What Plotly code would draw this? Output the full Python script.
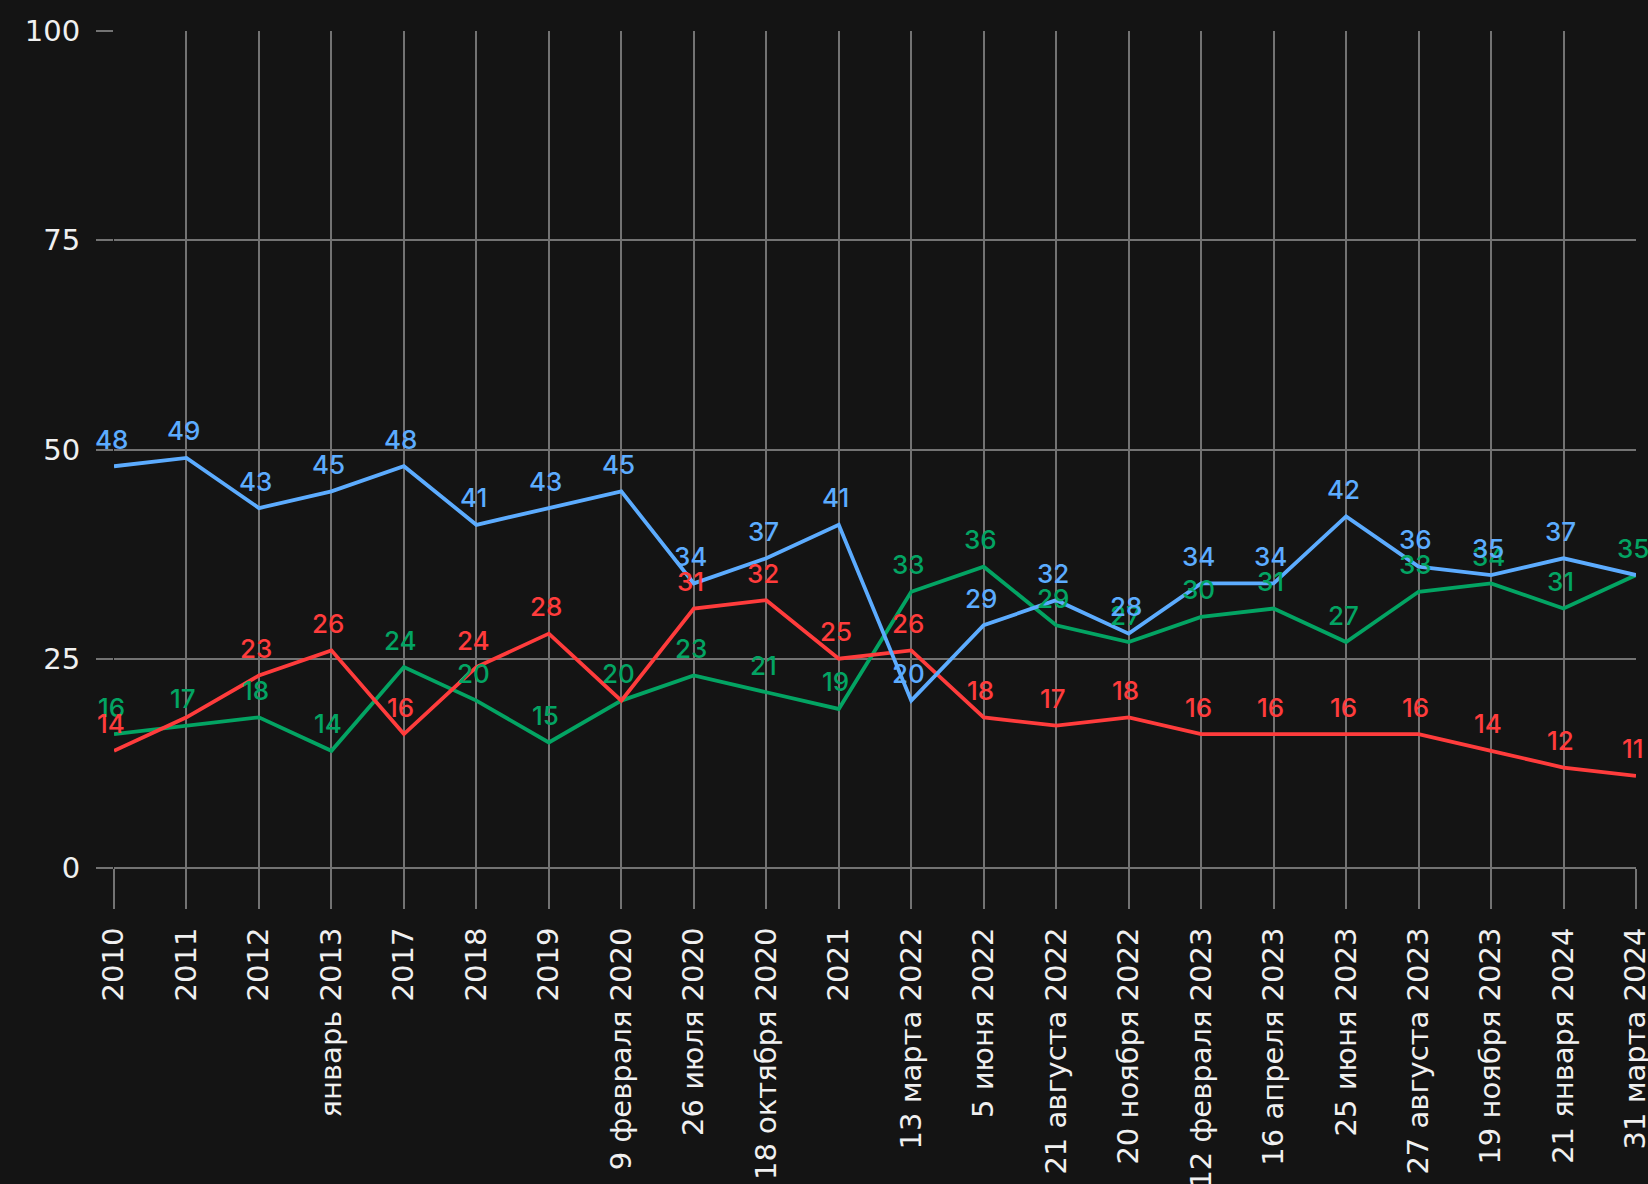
import plotly.graph_objects as go

# Survey dates (category axis)
dates = [
    "2010", "2011", "2012", "январь 2013", "2017", "2018", "2019",
    "9 февраля 2020", "26 июля 2020", "18 октября 2020", "2021",
    "13 марта 2022", "5 июня 2022", "21 августа 2022", "20 ноября 2022",
    "12 февраля 2023", "16 апреля 2023", "25 июня 2023", "27 августа 2023",
    "19 ноября 2023", "21 января 2024", "31 марта 2024",
]

# Shares, %
blue_values = [48, 49, 43, 45, 48, 41, 43, 45, 34, 37, 41, 20, 29, 32, 28, 34, 34, 42, 36, 35, 37, 35]
red_values = [14, 18, 23, 26, 16, 24, 28, 20, 31, 32, 25, 26, 18, 17, 18, 16, 16, 16, 16, 14, 12, 11]
green_values = [16, 17, 18, 14, 24, 20, 15, 20, 23, 21, 19, 33, 36, 29, 27, 30, 31, 27, 33, 34, 31, 35]

# Labels suppressed where they would collide with another series' label
blue_hidden = {21}
red_hidden = {1, 7}
green_hidden = set()

y_ticks = [0, 25, 50, 75, 100]

BG = "#141414"
GRID = "#737373"
TEXT = "#f0f0f0"
BLUE = "#5cacff"
RED = "#ff3c3c"
GREEN = "#03a463"
AXIS_FONT = "DejaVu Sans"
LABEL_FONT = "Inter"

series = [
    (green_values, GREEN, green_hidden),
    (red_values, RED, red_hidden),
    (blue_values, BLUE, blue_hidden),
]

fig = go.Figure()
annotations = []
for values, color, hidden in series:
    fig.add_trace(go.Scatter(
        x=list(range(len(dates))), y=values, mode="lines",
        line=dict(color=color, width=3.8), hoverinfo="skip", showlegend=False,
    ))
    for i, v in enumerate(values):
        if i in hidden:
            continue
        annotations.append(dict(
            x=i, y=v, xref="x", yref="y", text=str(v), showarrow=False,
            xanchor="center", yanchor="middle", yshift=27, xshift=-3,
            font=dict(family=LABEL_FONT, size=26, color=color, weight=500),
        ))

fig.update_layout(
    width=1648, height=1184,
    margin=dict(l=113.5, r=12, t=30.5, b=316),
    paper_bgcolor=BG, plot_bgcolor=BG,
    template="none",
    annotations=annotations,
    showlegend=False,
)

fig.update_xaxes(
    range=[0, len(dates) - 1],
    tickmode="array", tickvals=list(range(len(dates))), ticktext=dates,
    tickangle=-90,
    showgrid=True, gridcolor=GRID, gridwidth=2,
    ticks="outside", ticklen=40, tickwidth=2, tickcolor=GRID,
    tickfont=dict(family=AXIS_FONT, size=29, color=TEXT),
    ticklabelstandoff=7, ticklabeloverflow="allow",
    zeroline=False, showline=False, automargin=False,
)
fig.update_yaxes(
    range=[0, 100],
    tickmode="array", tickvals=y_ticks, ticktext=[str(t) for t in y_ticks],
    showgrid=True, gridcolor=GRID, gridwidth=2,
    ticks="outside", ticklen=17, tickwidth=2, tickcolor=GRID,
    tickfont=dict(family=AXIS_FONT, size=29, color=TEXT),
    ticklabelstandoff=10, ticklabeloverflow="allow",
    zeroline=True, zerolinecolor=GRID, zerolinewidth=2,
    showline=False, automargin=False,
)

fig.write_html("out.html")
